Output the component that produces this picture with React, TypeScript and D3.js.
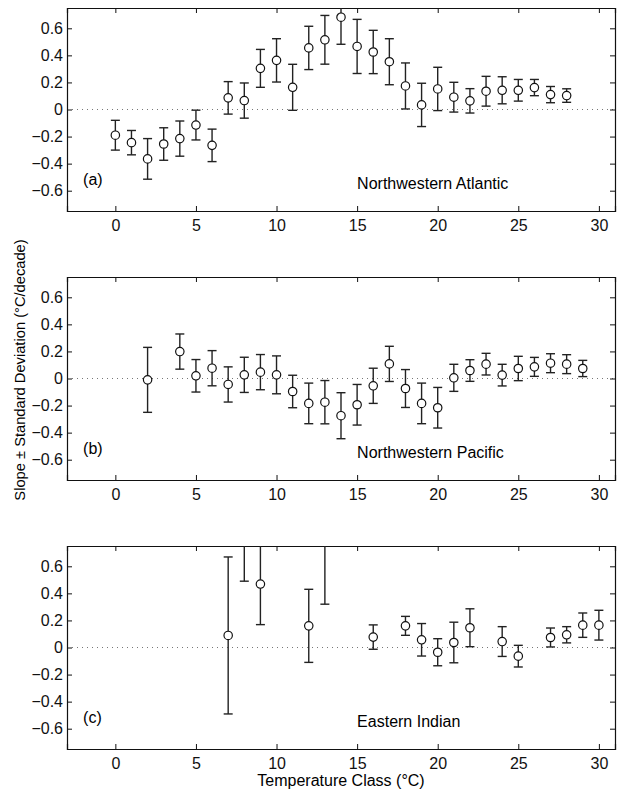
import React, { useRef, useEffect } from "react";
import * as d3 from "d3";

// Panel (a) Northwestern Atlantic
const atlClass = [0, 1, 2, 3, 4, 5, 6, 7, 8, 9, 10, 11, 12, 13, 14, 15, 16, 17, 18, 19, 20, 21, 22, 23, 24, 25, 26, 27, 28];
const atlSlope = [-0.19, -0.245, -0.365, -0.255, -0.215, -0.115, -0.265, 0.086, 0.066, 0.304, 0.363, 0.164, 0.455, 0.515, 0.682, 0.466, 0.425, 0.353, 0.174, 0.034, 0.152, 0.091, 0.064, 0.135, 0.142, 0.142, 0.162, 0.11, 0.103];
const atlSd = [0.11, 0.09, 0.15, 0.12, 0.13, 0.11, 0.12, 0.12, 0.13, 0.14, 0.16, 0.17, 0.16, 0.18, 0.2, 0.2, 0.16, 0.17, 0.17, 0.16, 0.16, 0.11, 0.09, 0.11, 0.1, 0.08, 0.06, 0.06, 0.05];

// Panel (b) Northwestern Pacific
const pacClass = [2, 4, 5, 6, 7, 8, 9, 10, 11, 12, 13, 14, 15, 16, 17, 18, 19, 20, 21, 22, 23, 24, 25, 26, 27, 28, 29];
const pacSlope = [-0.01, 0.199, 0.02, 0.076, -0.044, 0.027, 0.047, 0.027, -0.096, -0.184, -0.175, -0.275, -0.194, -0.054, 0.108, -0.074, -0.184, -0.216, 0.005, 0.059, 0.106, 0.025, 0.074, 0.086, 0.113, 0.106, 0.074];
const pacSd = [0.24, 0.13, 0.12, 0.13, 0.13, 0.13, 0.13, 0.14, 0.12, 0.15, 0.16, 0.17, 0.15, 0.13, 0.13, 0.14, 0.15, 0.15, 0.1, 0.08, 0.08, 0.08, 0.09, 0.07, 0.07, 0.07, 0.06];

// Panel (c) Eastern Indian
const indClass = [7, 8, 9, 12, 13, 16, 18, 19, 20, 21, 22, 24, 25, 27, 28, 29, 30];
const indSlope = [0.089, 0.95, 0.469, 0.16, 0.95, 0.077, 0.16, 0.057, -0.035, 0.037, 0.146, 0.044, -0.064, 0.074, 0.094, 0.165, 0.165];
const indSd = [0.58, 0.46, 0.3, 0.27, 0.63, 0.09, 0.07, 0.12, 0.1, 0.15, 0.14, 0.11, 0.08, 0.07, 0.06, 0.09, 0.11];

const xTicks = [0, 5, 10, 15, 20, 25, 30];
const yTicks = [-0.6, -0.4, -0.2, 0, 0.2, 0.4, 0.6];

const panels = [
  { tag: "(a)", name: "Northwestern Atlantic", cls: atlClass, slope: atlSlope, sd: atlSd },
  { tag: "(b)", name: "Northwestern Pacific", cls: pacClass, slope: pacSlope, sd: pacSd },
  { tag: "(c)", name: "Eastern Indian", cls: indClass, slope: indSlope, sd: indSd },
];

const W = 619;
const H = 792;
const left = 67;
const right = 615;
const tops = [8, 277, 546];
const panelH = 203;
const font = "'Liberation Sans', Arial, Helvetica, sans-serif";

const App = () => {
  const svgRef = useRef<SVGSVGElement>(null);

  useEffect(() => {
    const svg = d3.select(svgRef.current);
    svg.selectAll("*").remove();

    const x = d3.scaleLinear().domain([-3, 31]).range([left, right]);

    panels.forEach((p, k) => {
      const top = tops[k];
      const y = d3.scaleLinear().domain([-0.75, 0.75]).range([top + panelH, top]);
      const g = svg.append("g");

      g.append("clipPath")
        .attr("id", "clip" + k)
        .append("rect")
        .attr("x", left)
        .attr("y", top)
        .attr("width", right - left)
        .attr("height", panelH);

      // zero line
      g.append("line")
        .attr("x1", left)
        .attr("x2", right)
        .attr("y1", y(0))
        .attr("y2", y(0))
        .attr("stroke", "#777")
        .attr("stroke-width", 1)
        .attr("stroke-dasharray", "1,4");

      // axes, ticks inward on all four sides
      const bottom = d3.axisBottom(x).tickValues(xTicks).tickSize(-5).tickPadding(9).tickFormat(d3.format("d"));
      const topAx = d3.axisTop(x).tickValues(xTicks).tickSize(-5).tickFormat(() => "");
      const leftAx = d3.axisLeft(y).tickValues(yTicks).tickSize(-5).tickPadding(4).tickFormat((d) => (d === 0 ? "0" : d3.format(".1f")(d as number).replace("-", "\u2212")));
      const rightAx = d3.axisRight(y).tickValues(yTicks).tickSize(-5).tickFormat(() => "");

      const axes = [
        g.append("g").attr("transform", `translate(0,${top + panelH})`).call(bottom),
        g.append("g").attr("transform", `translate(0,${top})`).call(topAx),
        g.append("g").attr("transform", `translate(${left},0)`).call(leftAx),
        g.append("g").attr("transform", `translate(${right},0)`).call(rightAx),
      ];
      axes.forEach((a) => {
        a.select(".domain").attr("stroke", "#111").attr("stroke-width", 1.2);
        a.selectAll(".tick line").attr("stroke", "#111");
        a.selectAll("text").attr("font-size", 16).attr("font-family", font).attr("fill", "#111");
      });

      const pts = p.cls.map((c, i) => ({ c, v: p.slope[i], s: p.sd[i] }));
      const bars = g.append("g").attr("clip-path", `url(#clip${k})`);
      const item = bars.selectAll("g.pt").data(pts).enter().append("g").attr("class", "pt");
      item.append("line")
        .attr("x1", (d) => x(d.c))
        .attr("x2", (d) => x(d.c))
        .attr("y1", (d) => y(d.v - d.s))
        .attr("y2", (d) => y(d.v + d.s))
        .attr("stroke", "#222")
        .attr("stroke-width", 1.4);
      [-1, 1].forEach((sgn) => {
        item.append("line")
          .attr("x1", (d) => x(d.c) - 4.5)
          .attr("x2", (d) => x(d.c) + 4.5)
          .attr("y1", (d) => y(d.v + sgn * d.s))
          .attr("y2", (d) => y(d.v + sgn * d.s))
          .attr("stroke", "#222")
          .attr("stroke-width", 1.4);
      });
      item.append("circle")
        .attr("cx", (d) => x(d.c))
        .attr("cy", (d) => y(d.v))
        .attr("r", 4.2)
        .attr("fill", "white")
        .attr("stroke", "#111")
        .attr("stroke-width", 1.2);

      g.append("text")
        .attr("x", x(-2))
        .attr("y", y(-0.56))
        .attr("font-size", 16)
        .attr("font-family", font)
        .text(p.tag);
      g.append("text")
        .attr("x", x(15))
        .attr("y", y(-0.59))
        .attr("font-size", 16)
        .attr("font-family", font)
        .text(p.name);
    });

    svg.append("text")
      .attr("transform", `translate(25,370) rotate(-90)`)
      .attr("text-anchor", "middle")
      .attr("font-size", 14.7)
      .attr("font-family", font)
      .text("Slope \u00b1 Standard Deviation (\u00b0C/decade)");

    svg.append("text")
      .attr("x", (left + right) / 2)
      .attr("y", 786)
      .attr("text-anchor", "middle")
      .attr("font-size", 16)
      .attr("font-family", font)
      .text("Temperature Class (\u00b0C)");
  }, []);

  return (
    <svg
      ref={svgRef}
      width={W}
      height={H}
      style={{ position: "absolute", left: 0, top: 0, background: "white" }}
    />
  );
};

export default App;
